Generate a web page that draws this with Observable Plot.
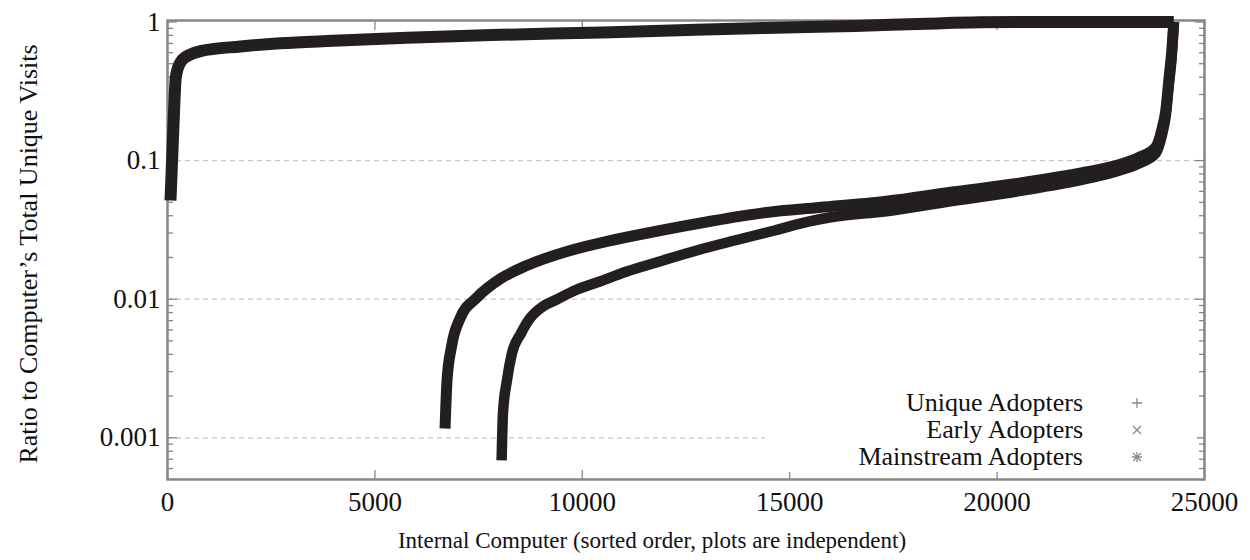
<!DOCTYPE html>
<html>
<head>
<meta charset="utf-8">
<script src="https://cdn.jsdelivr.net/npm/d3@7"></script>
<script src="https://cdn.jsdelivr.net/npm/@observablehq/plot@0.6"></script>
<style>
  html, body { margin: 0; padding: 0; background: #fff; }
  #wrap { position: relative; width: 1250px; height: 560px; font-family: "Liberation Serif", "Times New Roman", serif; color: #111; }
  #legend { position: absolute; left: 765px; top: 388px; width: 432px; height: 84px; background: #fff; }
  .row { position: absolute; left: 0; width: 432px; height: 26px; font-size: 26px; line-height: 26px; }
  .row span { position: absolute; right: 114px; top: 0; white-space: nowrap; }
  .row svg { position: absolute; left: 366px; top: 7px; overflow: visible; }
</style>
</head>
<body>
<div id="wrap"><div id="chart"></div><div id="legend"></div></div>
<script>
// ---- data ----
const seriesNames = ["Unique Adopters", "Early Adopters", "Mainstream Adopters"];

const uniqueX = [8055, 8087, 8183, 8303, 8520, 8736, 9049, 9386, 9819, 10421, 11071, 11865, 12756, 13670, 14633, 15475, 15957, 17329, 18917, 20529, 22142, 22936, 23418, 23820, 23978, 24067, 24139, 24212, 24260];
const uniqueY = [0.000686, 0.001497, 0.002591, 0.004057, 0.005655, 0.007258, 0.008857, 0.009949, 0.011555, 0.013418, 0.015845, 0.018707, 0.022457, 0.026509, 0.031311, 0.036358, 0.038858, 0.043132, 0.0511, 0.060145, 0.073637, 0.084392, 0.095302, 0.11248, 0.15428, 0.2115, 0.34808, 0.57308, 1];

const earlyX = [6691, 6739, 6852, 7052, 7461, 8039, 8664, 9627, 10590, 11697, 12996, 14440, 15716, 17329, 18917, 20529, 22142, 22936, 23418, 23820, 23978, 24067, 24139, 24212, 24260];
const earlyY = [0.001167, 0.002591, 0.004634, 0.007258, 0.010287, 0.014107, 0.0175, 0.022087, 0.026085, 0.030533, 0.036058, 0.042219, 0.045867, 0.05094, 0.059349, 0.068692, 0.082737, 0.09325, 0.1053, 0.1243, 0.17046, 0.2298, 0.37825, 0.62272, 1];

const mainstreamX = [72, 120, 168, 200, 313, 553, 794, 1757, 2720, 3995, 5776, 8014, 10493, 12732, 14440, 16582, 18315, 19567, 20530, 24260];
const mainstreamY = [0.0515, 0.118, 0.271, 0.40, 0.513, 0.583, 0.616, 0.666, 0.703, 0.732, 0.769, 0.808, 0.840, 0.878, 0.905, 0.937, 0.972, 0.995, 1, 1];

const xTicks = [0, 5000, 10000, 15000, 20000, 25000];
const yMajorTicks = [1, 0.1, 0.01, 0.001];
const yMinorTicks = [0.0006, 0.0007, 0.0008, 0.0009,
  0.002, 0.003, 0.004, 0.005, 0.006, 0.007, 0.008, 0.009,
  0.02, 0.03, 0.04, 0.05, 0.06, 0.07, 0.08, 0.09,
  0.2, 0.3, 0.4, 0.5, 0.6, 0.7, 0.8, 0.9];
const gridValues = [0.1, 0.01, 0.001];

const xTitle = "Internal Computer (sorted order, plots are independent)";
const yTitle = "Ratio to Computer\u2019s Total Unique Visits";

// ---- build tables ----
const toRows = (name, xs, ys) => xs.map((x, i) => ({series: name, x, y: ys[i]}));
const uniqueRows = toRows(seriesNames[0], uniqueX, uniqueY);
const earlyRows = toRows(seriesNames[1], earlyX, earlyY);
const mainstreamRows = toRows(seriesNames[2], mainstreamX, mainstreamY);

const FONT = "Liberation Serif, Times New Roman, serif";
const frameColor = "#868686";
const ink = "#231f20";
const blank = () => "";

const chart = Plot.plot({
  width: 1250,
  height: 560,
  marginLeft: 167,
  marginRight: 46,
  marginTop: 20,
  marginBottom: 81,
  style: {fontFamily: FONT, fontSize: "26px", background: "white", color: "#111"},
  x: {domain: [0, 25000]},
  y: {type: "log", domain: [0.0005, 1.025]},
  marks: [
    Plot.ruleY(gridValues, {stroke: "#c6c6c6", strokeWidth: 1.3, strokeDasharray: "5,4"}),
    Plot.frame({stroke: frameColor, strokeWidth: 2.5}),
    // inward tick marks on all four sides
    Plot.axisY(yMajorTicks, {anchor: "left", tickSize: -10, tickFormat: blank, label: null, stroke: frameColor, strokeWidth: 1.3}),
    Plot.axisY(yMinorTicks, {anchor: "left", tickSize: -6, tickFormat: blank, label: null, stroke: frameColor, strokeWidth: 1.3}),
    Plot.axisY(yMajorTicks, {anchor: "right", tickSize: -10, tickFormat: blank, label: null, stroke: frameColor, strokeWidth: 1.3}),
    Plot.axisY(yMinorTicks, {anchor: "right", tickSize: -6, tickFormat: blank, label: null, stroke: frameColor, strokeWidth: 1.3}),
    Plot.axisX(xTicks, {anchor: "bottom", tickSize: -9, tickFormat: blank, label: null, stroke: frameColor, strokeWidth: 1.3}),
    Plot.axisX(xTicks, {anchor: "top", tickSize: -9, tickFormat: blank, label: null, stroke: frameColor, strokeWidth: 1.3}),
    // tick labels
    Plot.axisY(yMajorTicks, {anchor: "left", tickSize: 0, tickPadding: 7, tickFormat: d => String(d), label: null, fontSize: 27, fill: "#111"}),
    Plot.axisX(xTicks, {anchor: "bottom", tickSize: 0, tickPadding: 12, tickFormat: d => String(d), label: null, fontSize: 27, fill: "#111"}),
    // data
    Plot.line(mainstreamRows, {x: "x", y: "y", stroke: ink, strokeWidth: 12, curve: "monotone-x", strokeLinejoin: "round", strokeLinecap: "butt"}),
    Plot.line(earlyRows, {x: "x", y: "y", stroke: ink, strokeWidth: 11, curve: "monotone-x", strokeLinejoin: "round", strokeLinecap: "butt"}),
    Plot.line(uniqueRows, {x: "x", y: "y", stroke: ink, strokeWidth: 10.5, curve: "monotone-x", strokeLinejoin: "round", strokeLinecap: "butt"}),
    // axis titles
    Plot.text([xTitle], {text: d => d, frameAnchor: "bottom", textAnchor: "middle", lineAnchor: "middle", dx: -34, dy: 61, fontSize: 23, fill: "#111"}),
    Plot.text([yTitle], {text: d => d, frameAnchor: "left", textAnchor: "middle", lineAnchor: "middle", rotate: -90, dx: -139, dy: 4, fontSize: 26, fill: "#111"})
  ]
});
document.getElementById("chart").appendChild(chart);

// ---- legend (inside the plot, lower right, on a white key box) ----
const markerPaths = [
  "M-5,0H5M0,-5V5",
  "M-4,-4L4,4M-4,4L4,-4",
  "M-5,0H5M0,-5V5M-4,-4L4,4M-4,4L4,-4"
];
const rowTops = [2, 29, 56];
const legend = document.getElementById("legend");
seriesNames.forEach((name, i) => {
  const row = document.createElement("div");
  row.className = "row";
  row.style.top = rowTops[i] + "px";
  const span = document.createElement("span");
  span.textContent = name;
  row.appendChild(span);
  const svg = document.createElementNS("http://www.w3.org/2000/svg", "svg");
  svg.setAttribute("width", "12");
  svg.setAttribute("height", "12");
  svg.setAttribute("viewBox", "-6 -6 12 12");
  const p = document.createElementNS("http://www.w3.org/2000/svg", "path");
  p.setAttribute("d", markerPaths[i]);
  p.setAttribute("stroke", "#8a8a8a");
  p.setAttribute("stroke-width", "1.3");
  p.setAttribute("fill", "none");
  svg.appendChild(p);
  row.appendChild(svg);
  legend.appendChild(row);
});
</script>
</body>
</html>
